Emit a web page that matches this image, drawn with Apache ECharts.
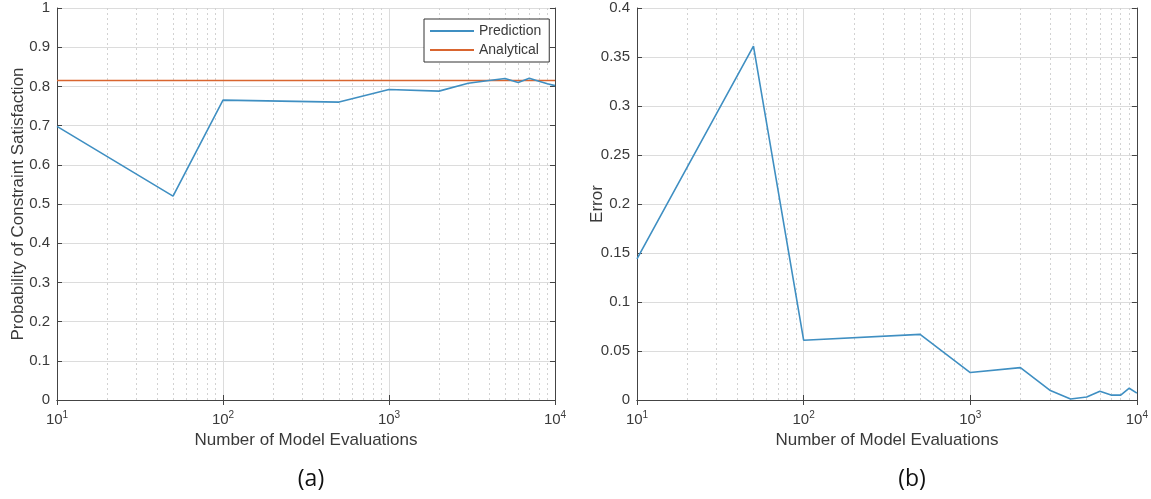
<!DOCTYPE html>
<html lang="en">
<head>
    <meta charset="UTF-8">
    <title>Constraint satisfaction</title>
    <style>
        html, body { margin: 0; padding: 0; background: #fff; }
        #chart1 { width: 1151px; height: 499px; }
    </style>
</head>
<body>
<div id="chart1"></div>
<script src="https://cdn.jsdelivr.net/npm/echarts@6/dist/echarts.min.js"></script>
<script type="text/javascript">
    // number of model evaluations
    var evals = [10, 50, 100, 500, 1000, 2000, 3000, 4000, 5000, 6000, 7000, 8000, 9000, 10000];
    // (a) predicted probability
    var predVals = [0.698, 0.52, 0.765, 0.76, 0.792, 0.788, 0.808, 0.815, 0.82, 0.81, 0.821, 0.813, 0.807, 0.802];
    // (a) analytical value, drawn across the whole range
    var analyticalX = [10, 10000];
    var analyticalVals = [0.815, 0.815];
    // (b) error
    var errVals = [0.144, 0.361, 0.061, 0.067, 0.028, 0.033, 0.010, 0.001, 0.003, 0.009, 0.005, 0.005, 0.012, 0.007];

    var ticksA = [0, 0.1, 0.2, 0.3, 0.4, 0.5, 0.6, 0.7, 0.8, 0.9, 1];
    var ticksB = [0, 0.05, 0.1, 0.15, 0.2, 0.25, 0.3, 0.35, 0.4];

    // minor grid positions of the log axis (20..90, 200..900, 2000..9000)
    var minorX = [];
    [10, 100, 1000].forEach(function (d) {
        for (var k = 2; k <= 9; k++) minorX.push(d * k);
    });

    var blue = '#3f8fc2', orange = '#d9652f', ink = '#3a3a3a';
    var font = 'Liberation Sans';

    function pairs(xs, ys) {
        return xs.map(function (x, i) { return [x, ys[i]]; });
    }

    function logLabel(v) {
        return '{b|10}{s|' + Math.round(Math.log10(v)) + '}';
    }

    function xBottom(grid) {
        return {
            type: 'log', logBase: 10, gridIndex: grid, min: 10, max: 10000,
            name: 'Number of Model Evaluations', nameLocation: 'middle', nameGap: 32,
            nameMoveOverlap: false,
            nameTextStyle: { color: ink, fontFamily: font, fontSize: 17 },
            axisLine: { lineStyle: { color: '#444', width: 1 } },
            axisTick: { inside: true, length: 5, lineStyle: { color: '#444' } },
            axisLabel: {
                margin: 10, formatter: logLabel,
                rich: {
                    b: { fontFamily: font, fontSize: 15, color: ink },
                    s: { fontFamily: font, fontSize: 10, color: ink, padding: [0, 0, 10, 0] }
                }
            },
            splitLine: { show: true, lineStyle: { color: '#dcdcdc', width: 1 } }
        };
    }

    function xTop(grid) {
        return {
            type: 'log', logBase: 10, gridIndex: grid, min: 10, max: 10000, position: 'top',
            axisLine: { lineStyle: { color: '#444', width: 1 } },
            axisTick: { inside: true, length: 5, lineStyle: { color: '#444' } },
            axisLabel: { show: false },
            splitLine: { show: false }
        };
    }

    function yLeft(grid, ticks, name, gap) {
        var step = ticks[1] - ticks[0];
        return {
            type: 'value', gridIndex: grid, min: ticks[0], max: ticks[ticks.length - 1], interval: step,
            name: name, nameLocation: 'middle', nameGap: gap, nameMoveOverlap: false,
            nameTextStyle: { color: ink, fontFamily: font, fontSize: 17 },
            axisLine: { show: true, lineStyle: { color: '#444', width: 1 } },
            axisTick: { show: true, inside: true, length: 5, lineStyle: { color: '#444' } },
            axisLabel: {
                margin: 7, color: ink, fontFamily: font, fontSize: 15,
                formatter: function (v) { return String(+v.toFixed(2)); }
            },
            splitLine: { show: true, lineStyle: { color: '#dcdcdc', width: 1 } }
        };
    }

    function yRight(grid, ticks) {
        return {
            type: 'value', gridIndex: grid, position: 'right',
            min: ticks[0], max: ticks[ticks.length - 1], interval: ticks[1] - ticks[0],
            axisLine: { show: true, lineStyle: { color: '#444', width: 1 } },
            axisTick: { show: true, inside: true, length: 5, lineStyle: { color: '#444' } },
            axisLabel: { show: false },
            splitLine: { show: false }
        };
    }

    function minorGrid(xi, yi) {
        return {
            type: 'line', xAxisIndex: xi, yAxisIndex: yi, data: [], silent: true, z: 1,
            markLine: {
                silent: true, symbol: 'none', label: { show: false }, animation: false, z: 1,
                lineStyle: { color: '#d2d2d2', type: [2, 3], width: 1 },
                data: minorX.map(function (v) { return { xAxis: v }; })
            }
        };
    }

    var chart1 = echarts.init(document.getElementById('chart1'));
    chart1.setOption({
        animation: false,
        backgroundColor: '#fff',
        grid: [
            { left: 57, top: 8, width: 498, height: 392 },
            { left: 637, top: 8, width: 500, height: 392 }
        ],
        legend: {
            data: ['Prediction', 'Analytical'],
            orient: 'vertical', left: 424, top: 19,
            padding: [5, 8, 5, 6], itemGap: 5,
            itemWidth: 44, itemHeight: 2, icon: 'rect',
            borderColor: '#333', borderWidth: 1, backgroundColor: '#fff',
            textStyle: { color: ink, fontFamily: font, fontSize: 14, padding: [0, 0, 0, 0] }
        },
        title: [
            { text: '(a)', left: 306, top: 463, textAlign: 'center',
              textStyle: { fontFamily: 'Open Sans', fontSize: 23, fontWeight: 'normal', color: '#111' } },
            { text: '(b)', left: 907, top: 463, textAlign: 'center',
              textStyle: { fontFamily: 'Open Sans', fontSize: 23, fontWeight: 'normal', color: '#111' } }
        ],
        xAxis: [xBottom(0), xTop(0), xBottom(1), xTop(1)],
        yAxis: [
            yLeft(0, ticksA, 'Probability of Constraint Satisfaction', 30),
            yRight(0, ticksA),
            yLeft(1, ticksB, 'Error', 31),
            yRight(1, ticksB)
        ],
        series: [
            minorGrid(0, 0),
            minorGrid(2, 2),
            {
                name: 'Prediction', type: 'line', xAxisIndex: 0, yAxisIndex: 0,
                data: pairs(evals, predVals), showSymbol: false, z: 3,
                lineStyle: { color: blue, width: 1.6 }, itemStyle: { color: blue }
            },
            {
                name: 'Analytical', type: 'line', xAxisIndex: 0, yAxisIndex: 0,
                data: pairs(analyticalX, analyticalVals), showSymbol: false, z: 2,
                lineStyle: { color: orange, width: 1.6 }, itemStyle: { color: orange }
            },
            {
                name: 'Error', type: 'line', xAxisIndex: 2, yAxisIndex: 2,
                data: pairs(evals, errVals), showSymbol: false, z: 3,
                lineStyle: { color: blue, width: 1.6 }, itemStyle: { color: blue }
            }
        ]
    });
</script>
</body>
</html>
